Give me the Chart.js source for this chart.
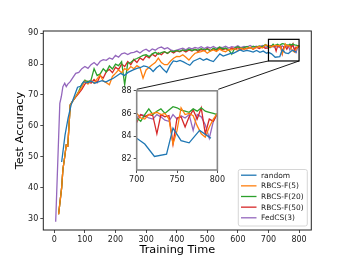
<!DOCTYPE html>
<html><head><meta charset="utf-8">
<script src="https://cdn.jsdelivr.net/npm/chart.js@4.4.0/dist/chart.umd.min.js"></script>
<style>
html,body{margin:0;padding:0;background:#fff;}
#wrap{position:relative;width:346px;height:259px;overflow:hidden;}
#main{position:absolute;left:0;top:0;}
#inset{position:absolute;left:105px;top:84px;}
</style></head><body>
<div id="wrap"><canvas id="main" width="346" height="259"></canvas><canvas id="inset" width="122" height="102"></canvas></div>
<script>
// ---------- data ----------
const seriesLabels = ['random','RBCS-F(5)','RBCS-F(20)','RBCS-F(50)','FedCS(3)'];
const seriesColors = ['#1f77b4','#ff7f0e','#2ca02c','#d62728','#9467bd'];

const randomTime = [24,35,45,55,65,76,86,96,108,120,132,144,156,168,180,193,205,217,229,241,258,270,282,292,302,313,323,334,345,356,367,378,389,400,411,422,433,443,454,465,476,487,498,509,520,530,541,552,563,574,585,596,607,618,629,640,650,661,672,683,694,700,710,722,737,745,755,765,778,792];
const randomAcc  = [48.3,57,62.5,66.8,69.5,72.5,72.8,74.3,73.9,74.5,73.8,74.2,74.6,74.2,74.8,75.4,76.2,77,76.3,77.3,78.1,78.6,78.9,79.4,79.2,78.6,77.6,78.8,79.6,78.3,77.3,79.5,81,80.8,81.2,80.7,80.1,79.6,80.9,81.4,81.9,81.2,81.7,81.2,80.8,82,83.3,82.6,83,83.4,83.5,84,84.6,84.1,84.4,84.2,83.9,84.4,83.8,84.2,83.5,83.8,83.3,82.2,82.4,84.7,83.6,83.4,84.5,83.8];

const rbcsTime = [14,24,28,34,39,44,48,52,
 60,70,80,90,100,110,120,130,140,150,160,170,180,190,200,210,220,230,240,250,260,270,280,290,300,310,320,330,340,350,360,370,380,390,400,410,420,430,440,450,460,470,480,490,500,510,520,530,540,550,560,570,580,590,600,610,620,630,640,650,660,670,680,690,
 700,705,710,715,720,725,730,735,740,745,750,755,760,765,770,775,780,785,790,795,800];

const rbcs5Acc = [31.4,40,45.8,50,53.8,53.5,60,66.8,
 68,69.5,71,72.5,74.5,73.5,74.6,73.8,75.2,76.5,74.5,74,73.3,76,77,78.1,77.2,78.5,78,79.2,78.5,79.5,78.8,75.4,78.1,79,79.8,80.5,81.9,80.5,79.8,79.8,81,81.9,82.5,82.4,83,82.2,81.3,82.5,83.5,83.8,84,84.4,83.5,84.2,84.6,84.1,84.8,84.3,84,84.7,84.6,85,84.4,85.1,84.7,85.1,85.4,84.9,85.3,85.7,85.2,86.2,
 86,85.6,85.5,85.9,86,86.1,85.9,86,85.5,83.3,84.5,86.5,85.9,86,85.8,84.9,84.2,83.9,84.8,85.5,86];

const rbcs20Acc = [31.4,40,45.8,50,53.8,53.5,60,66.8,
 68,69.5,71.2,73.5,74.8,74.2,74.8,78.5,76.3,76.8,78.5,77.5,79.4,78.4,80,79.5,80.8,73.3,80.3,80.5,81.4,81.8,82.3,82.8,83,82.4,83.3,83.8,83.2,83.7,84,83.5,84.2,84,84.4,84.1,84.6,84.3,84.8,84.4,84.7,84.5,85,84.6,84.9,84.3,85.1,84.7,85.5,84.9,85.2,84.6,83.2,85.2,85.6,85.1,85.3,85.7,85.2,85.8,85.4,85.9,85.6,86.3,
 85.6,85.3,85.9,86.4,85.9,86.2,86.4,86,86.3,86.6,86.5,86.3,86.2,86.1,86.4,86.2,86.5,86.2,86.1,86,85.9];

const rbcs50Acc = [31.4,40,45.8,50,53.8,53.5,60,66.8,
 68,69.3,70.5,71.8,73.5,74.5,73.8,75,74,76.2,75.5,77.5,78.3,77.2,79,78.2,80,79.2,80.8,79.8,81.5,80.5,82,81.3,82.6,82,83.2,82.5,83.6,83,84,83.4,84.2,83.6,84.3,84,84.5,83.9,84.6,84.2,84.8,84.1,84.7,84.3,85,84.4,84.9,84.5,85.1,84.6,85,84.5,85.2,84.8,85.3,84.7,85.2,84.9,85.4,84.8,85.5,85,85.6,85.1,
 85.2,85.9,85.7,85.9,85.8,84.2,85.9,85.7,85.8,83.3,85.6,85.7,84.8,85.7,86.3,85.5,86.5,84.2,85.5,85.3,86];

const fedcsTime = [4.5,18,23,28,34,39,44,52,
 60,70,80,90,100,110,120,130,140,150,160,170,180,190,200,210,220,230,240,250,260,270,280,290,300,310,320,330,340,350,360,370,380,390,400,410,420,430,440,450,460,470,480,490,500,510,520,530,540,550,560,570,580,590,600,610,620,630,640,650,660,670,680,690,
 700,705,710,715,720,725,730,735,740,745,750,755,760,765,770,775,780,785,790,795,800];
const fedcsAcc = [29,67.3,69.5,72.7,73.8,72.7,73.5,74.3,
 75.5,77,77.3,78.5,79.2,78.6,79.8,80.5,79.6,80.9,81.4,81.2,82,81.6,82.8,82.2,83.3,83.6,83.1,83.6,83.8,84.2,83.6,84.4,84.8,84.1,84.9,84.5,85.2,85.5,84.9,85.3,84.6,84.3,84.5,84.8,85.1,84.6,85.3,84.9,85.4,85.1,85.6,85,85.5,85.2,85.7,85.1,85.5,85.3,85.8,85.2,85.6,85.4,85.9,85.3,85.7,85.5,86,85.4,85.8,85.5,86,85.5,
 85.6,85.9,85.8,85.6,85.5,85.9,85.7,85.4,85.3,85.9,85.5,85.8,85.6,85.9,84.5,85.9,85.7,85,83.8,85.3,86];

const xTicks = [0,100,200,300,400,500,600,700,800];
const yTicks = [30,40,50,60,70,80,90];
const insetXTicks = [700,750,800];
const insetYTicks = [82,84,86,88];
const zoomX = [700,800];
const zoomY = [81,88];

// ---------- build ----------
const FONT = 'DejaVu Sans';
const times = [randomTime, rbcsTime, rbcsTime, rbcsTime, fedcsTime];
const accs = [randomAcc, rbcs5Acc, rbcs20Acc, rbcs50Acc, fedcsAcc];
function makeDatasets(){
  return accs.map((a,i)=>({
    label: seriesLabels[i],
    data: a.map((v,j)=>({x: times[i][j], y: v})),
    borderColor: seriesColors[i],
    backgroundColor: seriesColors[i],
    borderWidth: 1.3,
    pointRadius: 0,
    tension: 0,
    fill: false,
    clip: 0
  }));
}

// inset box geometry (page pixels)
const INSET = {left:136.7, top:89.3, right:218.3, bottom:170};
const INSET_CANVAS = {left:105, top:84, width:122, height:102};

function tickAxis(opts){
  return Object.assign({
    type:'linear',
    grid:{display:true, drawOnChartArea:false, drawTicks:true, tickLength:3, color:'#222', lineWidth:0.8},
    border:{display:false},
    ticks:{font:{family:FONT,size:8}, color:'#222', padding:2, maxRotation:0, autoSkip:false}
  }, opts);
}

const mainPlugin = {
  id:'mainDeco',
  afterDraw(chart){
    const {ctx, chartArea:a, scales:{x,y}} = chart;
    ctx.save();
    ctx.strokeStyle = '#222'; ctx.lineWidth = 1;
    ctx.strokeRect(a.left, a.top, a.right-a.left, a.bottom-a.top);
    // zoom rectangle
    const rx0 = x.getPixelForValue(zoomX[0]), rx1 = x.getPixelForValue(zoomX[1]);
    const ry0 = y.getPixelForValue(zoomY[1]), ry1 = y.getPixelForValue(zoomY[0]);
    ctx.strokeStyle = '#000'; ctx.lineWidth = 1.2;
    ctx.strokeRect(rx0, ry0, rx1-rx0, ry1-ry0);
    ctx.lineWidth = 0.9;
    ctx.beginPath();
    ctx.moveTo(rx0, ry1); ctx.lineTo(INSET.left, INSET.top);
    ctx.moveTo(rx1, ry1); ctx.lineTo(INSET.right, INSET.top);
    ctx.stroke();
    // legend
    const bx=238.3, by=169.5, bw=69, bh=56.5;
    ctx.globalAlpha = 0.8;
    ctx.fillStyle = '#fff';
    ctx.beginPath(); ctx.roundRect(bx,by,bw,bh,2); ctx.fill();
    ctx.globalAlpha = 1;
    ctx.strokeStyle = '#ccc'; ctx.lineWidth = 0.8;
    ctx.beginPath(); ctx.roundRect(bx,by,bw,bh,2); ctx.stroke();
    ctx.font = '7.5px "'+FONT+'"';
    ctx.textBaseline = 'middle'; ctx.textAlign='left';
    seriesLabels.forEach((lab,i)=>{
      const yy = 175.2 + i*10.65;
      ctx.strokeStyle = seriesColors[i]; ctx.lineWidth = 1.3;
      ctx.beginPath(); ctx.moveTo(241, yy); ctx.lineTo(256.5, yy); ctx.stroke();
      ctx.fillStyle = '#222';
      ctx.fillText(lab, 261, yy+0.5);
    });
    ctx.restore();
  }
};

new Chart(document.getElementById('main'), {
  type:'line',
  data:{datasets: makeDatasets()},
  options:{
    responsive:false, animation:false, devicePixelRatio:1,
    layout:{padding:{top:31, right:34.7, left:0, bottom:0}},
    plugins:{legend:{display:false}, tooltip:{enabled:false}},
    scales:{
      x: tickAxis({min:-36, max:840,
        afterBuildTicks:s=>{s.ticks = xTicks.map(v=>({value:v}));},
        afterFit:s=>{s.height=29;},
        title:{display:true, text:'Training Time', color:'#000', font:{family:FONT,size:11.3}, padding:{top:0,bottom:2.4}}
      }),
      y: tickAxis({min:26.3, max:90.7,
        afterBuildTicks:s=>{s.ticks = yTicks.map(v=>({value:v}));},
        afterFit:s=>{s.width=43.3;},
        title:{display:true, text:'Test Accuracy', color:'#000', font:{family:FONT,size:11.3}, padding:{top:13.2,bottom:0}}
      })
    }
  },
  plugins:[mainPlugin]
});

const insetPlugin = {
  id:'insetDeco',
  beforeDatasetsDraw(chart){
    const {ctx, chartArea:a} = chart;
    ctx.save(); ctx.fillStyle='#fff';
    ctx.fillRect(a.left,a.top,a.right-a.left,a.bottom-a.top);
    ctx.restore();
  },
  afterDraw(chart){
    const {ctx, chartArea:a} = chart;
    ctx.save(); ctx.strokeStyle='#888'; ctx.lineWidth=1.6;
    ctx.strokeRect(a.left,a.top,a.right-a.left,a.bottom-a.top);
    ctx.restore();
  }
};

new Chart(document.getElementById('inset'), {
  type:'line',
  data:{datasets: makeDatasets()},
  options:{
    responsive:false, animation:false, devicePixelRatio:1,
    layout:{padding:{top:INSET.top-INSET_CANVAS.top, right:INSET_CANVAS.left+INSET_CANVAS.width-INSET.right, left:0, bottom:0}},
    plugins:{legend:{display:false}, tooltip:{enabled:false}},
    scales:{
      x: tickAxis({min:zoomX[0], max:zoomX[1],
        afterBuildTicks:s=>{s.ticks = insetXTicks.map(v=>({value:v}));},
        afterFit:s=>{s.height=INSET_CANVAS.top+INSET_CANVAS.height-INSET.bottom;}
      }),
      y: tickAxis({min:zoomY[0], max:zoomY[1],
        afterBuildTicks:s=>{s.ticks = insetYTicks.map(v=>({value:v}));},
        afterFit:s=>{s.width=INSET.left-INSET_CANVAS.left;}
      })
    }
  },
  plugins:[insetPlugin]
});
</script>
</body></html>
